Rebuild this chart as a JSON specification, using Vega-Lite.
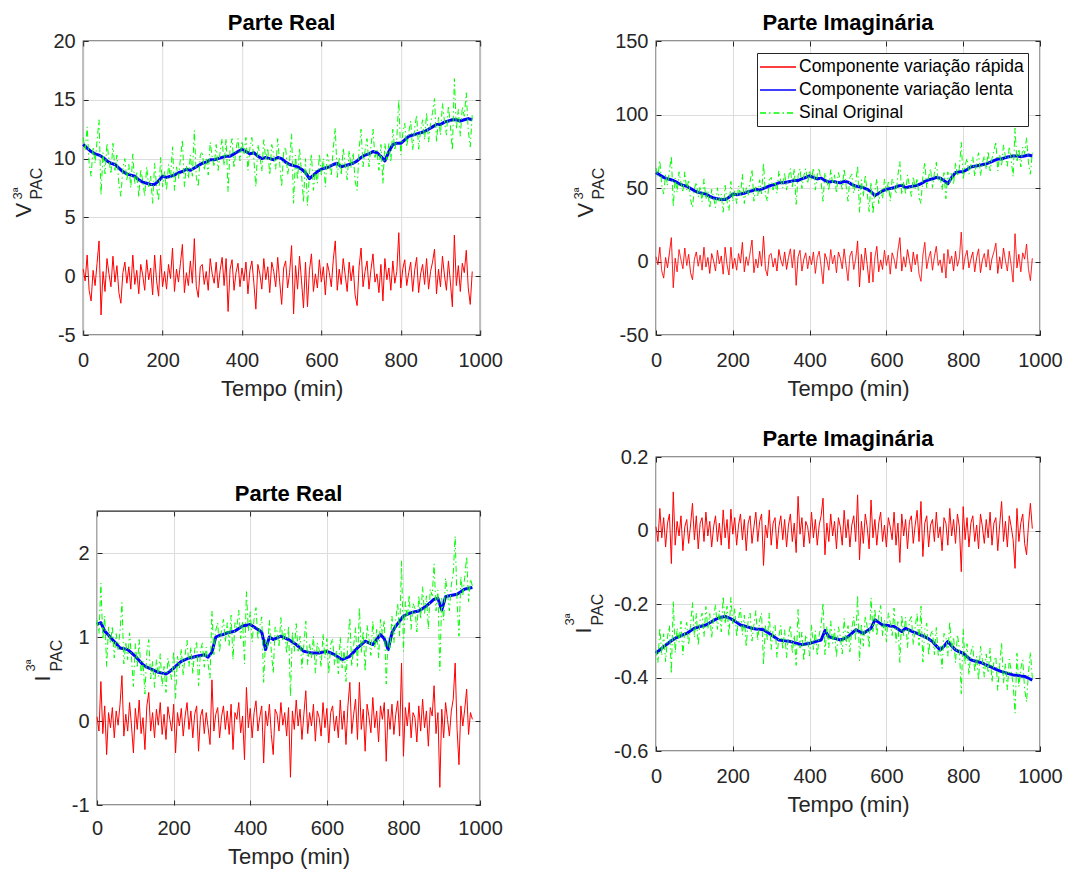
{
"$schema":"https://vega.github.io/schema/vega-lite/v6.json",
"padding":{"left":10,"top":11,"right":5,"bottom":3},
"config":{
 "font":"Liberation Sans",
 "view":{"stroke":"#262626","strokeWidth":1.3},
 "axis":{"labelFont":"Liberation Sans","labelFontSize":20,"labelColor":"#262626","titleFont":"Liberation Sans","titleColor":"#262626","titleFontWeight":"normal","gridColor":"#dcdcdc","gridOpacity":1,"tickColor":"#262626","tickSize":-5,"tickWidth":1,"domain":false,"labelPadding":13,"labelFlush":false},
 "title":{"font":"Liberation Sans","fontSize":22,"fontWeight":"bold","color":"#000000","baseline":"alphabetic","offset":-4,"frame":"group","anchor":"middle"},
 "line":{"strokeJoin":"round"}
},
"datasets":{
"f":[
{"t":0,"a":0.6,"b":11.8,"c":3.2,"d":63.7,"e":0.05,"f":1.2,"g":0.01,"h":-0.324},
{"t":5,"a":-0.4,"b":10.7,"c":-2.2,"d":57.8,"e":-0.12,"f":1.04,"g":-0.03,"h":-0.36},
{"t":10,"a":1.8,"b":12.7,"c":9.7,"d":68.6,"e":0.47,"f":1.64,"g":0.06,"h":-0.265},
{"t":15,"a":-1.2,"b":9.6,"c":-6.5,"d":51.8,"e":-0.15,"f":0.97,"g":-0.02,"h":-0.34},
{"t":20,"a":-2.1,"b":8.5,"c":-11.3,"d":45.9,"e":0.18,"f":1.25,"g":0.035,"h":-0.281},
{"t":25,"a":0.5,"b":11.0,"c":2.7,"d":59.4,"e":-0.4,"f":0.65,"g":-0.045,"h":-0.357},
{"t":30,"a":-0.8,"b":9.6,"c":-4.3,"d":51.8,"e":0.1,"f":1.12,"g":0.02,"h":-0.288},
{"t":35,"a":1.1,"b":11.5,"c":5.9,"d":62.1,"e":-0.08,"f":0.92,"g":0.045,"h":-0.259},
{"t":40,"a":3.0,"b":13.3,"c":16.2,"d":71.8,"e":0.16,"f":1.13,"g":-0.09,"h":-0.39},
{"t":45,"a":-3.3,"b":6.9,"c":-17.8,"d":37.3,"e":-0.2,"f":0.75,"g":0.105,"h":-0.192},
{"t":50,"a":0.4,"b":10.5,"c":2.2,"d":56.7,"e":0.12,"f":1.04,"g":-0.04,"h":-0.333},
{"t":55,"a":-1.3,"b":8.7,"c":-7.0,"d":47.0,"e":-0.05,"f":0.85,"g":0.025,"h":-0.266},
{"t":60,"a":1.5,"b":11.3,"c":8.1,"d":61.0,"e":0.2,"f":1.07,"g":-0.015,"h":-0.304},
{"t":65,"a":0.2,"b":9.9,"c":1.1,"d":53.5,"e":0.54,"f":1.41,"g":0.04,"h":-0.247},
{"t":70,"a":-0.9,"b":8.7,"c":-4.9,"d":47.0,"e":-0.18,"f":0.68,"g":-0.055,"h":-0.339},
{"t":75,"a":1.7,"b":11.3,"c":9.2,"d":61.0,"e":0.08,"f":0.94,"g":0.01,"h":-0.272},
{"t":80,"a":-0.5,"b":9.0,"c":-2.7,"d":48.6,"e":-0.12,"f":0.73,"g":0.03,"h":-0.25},
{"t":85,"a":0.9,"b":10.3,"c":4.9,"d":55.6,"e":0.22,"f":1.05,"g":-0.035,"h":-0.312},
{"t":90,"a":-1.4,"b":7.8,"c":-7.6,"d":42.1,"e":-0.06,"f":0.75,"g":0.015,"h":-0.258},
{"t":95,"a":-2.3,"b":6.8,"c":-12.4,"d":36.7,"e":-0.38,"f":0.41,"g":0.074,"h":-0.196},
{"t":100,"a":0.3,"b":9.2,"c":1.6,"d":49.7,"e":0.15,"f":0.92,"g":-0.025,"h":-0.291},
{"t":105,"a":1.2,"b":10.0,"c":6.5,"d":54.0,"e":-0.1,"f":0.65,"g":0.04,"h":-0.225},
{"t":110,"a":-0.6,"b":8.1,"c":-3.2,"d":43.7,"e":0.25,"f":0.97,"g":-0.05,"h":-0.313},
{"t":115,"a":0.8,"b":9.5,"c":4.3,"d":51.3,"e":-0.15,"f":0.55,"g":0.02,"h":-0.242},
{"t":120,"a":-1.1,"b":7.5,"c":-5.9,"d":40.5,"e":0.04,"f":0.71,"g":0.035,"h":-0.225},
{"t":125,"a":1.8,"b":10.4,"c":9.7,"d":56.2,"e":-0.34,"f":0.32,"g":-0.03,"h":-0.289},
{"t":130,"a":-0.7,"b":7.8,"c":-3.8,"d":42.1,"e":0.18,"f":0.82,"g":0.05,"h":-0.207},
{"t":135,"a":0.5,"b":8.9,"c":2.7,"d":48.1,"e":0.34,"f":0.97,"g":-0.015,"h":-0.269},
{"t":140,"a":-1.5,"b":6.7,"c":-8.1,"d":36.2,"e":-0.12,"f":0.5,"g":0.025,"h":-0.226},
{"t":145,"a":1.0,"b":9.1,"c":5.4,"d":49.1,"e":0.1,"f":0.71,"g":-0.045,"h":-0.293},
{"t":150,"a":0.1,"b":8.1,"c":0.5,"d":43.7,"e":-0.2,"f":0.4,"g":0.01,"h":-0.235},
{"t":155,"a":-1.2,"b":6.8,"c":-6.5,"d":36.7,"e":0.14,"f":0.73,"g":0.04,"h":-0.202},
{"t":160,"a":1.4,"b":9.3,"c":7.6,"d":50.2,"e":-0.05,"f":0.53,"g":-0.03,"h":-0.269},
{"t":165,"a":-0.3,"b":7.6,"c":-1.6,"d":41.0,"e":0.22,"f":0.8,"g":0.02,"h":-0.218},
{"t":170,"a":0.7,"b":8.5,"c":3.8,"d":45.9,"e":-0.16,"f":0.41,"g":-0.04,"h":-0.276},
{"t":175,"a":-1.6,"b":6.2,"c":-8.6,"d":33.5,"e":0.08,"f":0.65,"g":0.056,"h":-0.179},
{"t":180,"a":1.8,"b":9.6,"c":9.7,"d":51.8,"e":-0.22,"f":0.34,"g":-0.02,"h":-0.254},
{"t":185,"a":-0.4,"b":7.6,"c":-2.2,"d":41.0,"e":0.17,"f":0.75,"g":0.03,"h":-0.206},
{"t":190,"a":-1.7,"b":6.4,"c":-9.2,"d":34.6,"e":0.02,"f":0.61,"g":-0.05,"h":-0.288},
{"t":195,"a":1.8,"b":10.1,"c":9.7,"d":54.5,"e":-0.12,"f":0.49,"g":0.058,"h":-0.182},
{"t":200,"a":-0.9,"b":7.6,"c":-4.9,"d":41.0,"e":0.2,"f":0.83,"g":-0.01,"h":-0.253},
{"t":205,"a":0.4,"b":8.9,"c":2.2,"d":48.1,"e":-0.38,"f":0.27,"g":0.035,"h":-0.212},
{"t":210,"a":-1.1,"b":7.3,"c":-5.9,"d":39.4,"e":0.1,"f":0.77,"g":-0.04,"h":-0.29},
{"t":215,"a":1.0,"b":9.5,"c":5.4,"d":51.3,"e":-0.06,"f":0.63,"g":0.015,"h":-0.239},
{"t":220,"a":-0.2,"b":8.3,"c":-1.1,"d":44.8,"e":0.15,"f":0.86,"g":0.045,"h":-0.212},
{"t":225,"a":2.4,"b":11.0,"c":13.0,"d":59.4,"e":-0.18,"f":0.54,"g":-0.025,"h":-0.284},
{"t":230,"a":-1.3,"b":7.3,"c":-7.0,"d":39.4,"e":0.06,"f":0.79,"g":0.03,"h":-0.23},
{"t":235,"a":0.6,"b":9.3,"c":3.2,"d":50.2,"e":0.22,"f":0.96,"g":-0.055,"h":-0.317},
{"t":240,"a":-0.5,"b":8.3,"c":-2.7,"d":44.8,"e":-0.1,"f":0.65,"g":0.02,"h":-0.243},
{"t":245,"a":1.1,"b":10.0,"c":5.9,"d":54.0,"e":0.12,"f":0.88,"g":0.04,"h":-0.225},
{"t":250,"a":2.7,"b":11.6,"c":14.6,"d":62.6,"e":-0.2,"f":0.56,"g":-0.035,"h":-0.301},
{"t":255,"a":-1.4,"b":7.6,"c":-7.6,"d":41.0,"e":0.08,"f":0.85,"g":0.01,"h":-0.257},
{"t":260,"a":0.3,"b":9.4,"c":1.6,"d":50.8,"e":0.18,"f":0.95,"g":0.05,"h":-0.218},
{"t":265,"a":-0.8,"b":8.3,"c":-4.3,"d":44.8,"e":-0.36,"f":0.42,"g":-0.03,"h":-0.299},
{"t":270,"a":1.3,"b":10.3,"c":7.0,"d":55.6,"e":0.05,"f":0.83,"g":0.025,"h":-0.244},
{"t":275,"a":-0.6,"b":8.5,"c":-3.2,"d":45.9,"e":0.14,"f":0.93,"g":0.045,"h":-0.225},
{"t":280,"a":3.2,"b":12.4,"c":17.3,"d":67.0,"e":-0.15,"f":0.64,"g":-0.095,"h":-0.365},
{"t":285,"a":-0.9,"b":8.4,"c":-4.9,"d":45.4,"e":0.1,"f":0.88,"g":0.015,"h":-0.259},
{"t":290,"a":-1.8,"b":7.6,"c":-9.7,"d":41.0,"e":-0.08,"f":0.68,"g":-0.02,"h":-0.297},
{"t":295,"a":0.8,"b":10.3,"c":4.3,"d":55.6,"e":-0.28,"f":0.51,"g":0.056,"h":-0.225},
{"t":300,"a":1.0,"b":10.6,"c":5.4,"d":57.2,"e":0.49,"f":1.31,"g":-0.04,"h":-0.324},
{"t":305,"a":-0.7,"b":9.0,"c":-3.8,"d":48.6,"e":-0.12,"f":0.79,"g":0.02,"h":-0.268},
{"t":310,"a":0.4,"b":10.1,"c":2.2,"d":54.5,"e":0.08,"f":1.08,"g":0.035,"h":-0.256},
{"t":315,"a":-1.2,"b":8.6,"c":-6.5,"d":46.4,"e":0.16,"f":1.17,"g":-0.05,"h":-0.345},
{"t":320,"a":1.5,"b":11.4,"c":8.1,"d":61.6,"e":-0.2,"f":0.82,"g":0.01,"h":-0.288},
{"t":325,"a":0.2,"b":10.1,"c":1.1,"d":54.5,"e":0.05,"f":1.08,"g":0.04,"h":-0.259},
{"t":330,"a":-0.6,"b":9.3,"c":-3.2,"d":50.2,"e":0.18,"f":1.21,"g":-0.025,"h":-0.324},
{"t":335,"a":1.2,"b":11.2,"c":6.5,"d":60.5,"e":-0.1,"f":0.94,"g":0.03,"h":-0.27},
{"t":340,"a":-1.0,"b":9.0,"c":-5.4,"d":48.6,"e":0.12,"f":1.17,"g":-0.045,"h":-0.346},
{"t":345,"a":0.5,"b":10.6,"c":2.7,"d":57.2,"e":-0.16,"f":0.9,"g":0.015,"h":-0.287},
{"t":350,"a":1.6,"b":11.7,"c":8.6,"d":63.2,"e":0.2,"f":1.26,"g":0.045,"h":-0.257},
{"t":355,"a":-0.8,"b":9.4,"c":-4.3,"d":50.8,"e":-0.34,"f":0.73,"g":-0.03,"h":-0.334},
{"t":360,"a":1.5,"b":11.7,"c":8.1,"d":63.2,"e":0.1,"f":1.17,"g":0.02,"h":-0.285},
{"t":365,"a":-3.0,"b":7.2,"c":-16.2,"d":38.9,"e":0.02,"f":1.11,"g":-0.06,"h":-0.367},
{"t":370,"a":0.6,"b":10.8,"c":3.2,"d":58.3,"e":0.22,"f":1.32,"g":0.093,"h":-0.215},
{"t":375,"a":1.4,"b":11.7,"c":7.6,"d":63.2,"e":-0.14,"f":0.98,"g":-0.01,"h":-0.32},
{"t":380,"a":-1.2,"b":9.2,"c":-6.5,"d":49.7,"e":0.06,"f":1.19,"g":0.035,"h":-0.276},
{"t":385,"a":0.3,"b":10.8,"c":1.6,"d":58.3,"e":-0.46,"f":0.68,"g":-0.045,"h":-0.355},
{"t":390,"a":1.1,"b":11.7,"c":5.9,"d":63.2,"e":0.4,"f":1.54,"g":0.025,"h":-0.284},
{"t":395,"a":-0.9,"b":9.8,"c":-4.9,"d":52.9,"e":-0.08,"f":1.07,"g":0.01,"h":-0.298},
{"t":400,"a":0.7,"b":11.5,"c":3.8,"d":62.1,"e":0.15,"f":1.3,"g":-0.035,"h":-0.342},
{"t":405,"a":-0.4,"b":10.3,"c":-2.2,"d":55.6,"e":-0.2,"f":0.94,"g":0.05,"h":-0.256},
{"t":410,"a":1.2,"b":11.8,"c":6.5,"d":63.7,"e":0.1,"f":1.22,"g":-0.02,"h":-0.324},
{"t":415,"a":-1.5,"b":9.0,"c":-8.1,"d":48.6,"e":0.24,"f":1.35,"g":0.03,"h":-0.273},
{"t":420,"a":0.5,"b":10.9,"c":2.7,"d":58.9,"e":-0.12,"f":0.97,"g":-0.04,"h":-0.341},
{"t":425,"a":1.3,"b":11.8,"c":7.0,"d":63.7,"e":0.05,"f":1.13,"g":0.015,"h":-0.285},
{"t":430,"a":-0.6,"b":9.9,"c":-3.2,"d":53.5,"e":0.18,"f":1.24,"g":0.04,"h":-0.258},
{"t":435,"a":-2.8,"b":7.6,"c":-15.1,"d":41.0,"e":-0.5,"f":0.46,"g":0.088,"h":-0.197},
{"t":440,"a":1.0,"b":11.2,"c":5.4,"d":60.5,"e":0.12,"f":0.97,"g":-0.066,"h":-0.338},
{"t":445,"a":0.2,"b":10.3,"c":1.1,"d":55.6,"e":-0.06,"f":0.87,"g":0.02,"h":-0.261},
{"t":450,"a":-1.1,"b":8.9,"c":-5.9,"d":48.1,"e":0.2,"f":1.2,"g":-0.03,"h":-0.319},
{"t":455,"a":1.5,"b":11.6,"c":8.1,"d":62.6,"e":-0.16,"f":0.83,"g":0.045,"h":-0.246},
{"t":460,"a":-0.3,"b":9.8,"c":-1.6,"d":52.9,"e":-0.4,"f":0.57,"g":-0.015,"h":-0.307},
{"t":465,"a":0.8,"b":10.9,"c":4.3,"d":58.9,"e":0.14,"f":1.12,"g":0.025,"h":-0.269},
{"t":470,"a":-1.4,"b":8.6,"c":-7.6,"d":46.4,"e":0.08,"f":1.07,"g":-0.05,"h":-0.345},
{"t":475,"a":1.2,"b":11.2,"c":6.5,"d":60.5,"e":-0.12,"f":0.88,"g":0.035,"h":-0.262},
{"t":480,"a":0.4,"b":10.3,"c":2.2,"d":55.6,"e":0.22,"f":1.23,"g":0.01,"h":-0.288},
{"t":485,"a":-0.9,"b":9.1,"c":-4.9,"d":49.1,"e":-0.05,"f":0.95,"g":-0.04,"h":-0.336},
{"t":490,"a":1.6,"b":11.7,"c":8.6,"d":63.2,"e":0.1,"f":1.09,"g":0.055,"h":-0.239},
{"t":495,"a":-0.5,"b":9.6,"c":-2.7,"d":51.8,"e":-0.18,"f":0.8,"g":-0.02,"h":-0.312},
{"t":500,"a":-2.4,"b":7.6,"c":-13.0,"d":41.0,"e":0.16,"f":1.13,"g":0.03,"h":-0.259},
{"t":505,"a":0.7,"b":10.6,"c":3.8,"d":57.2,"e":-0.67,"f":0.29,"g":-0.045,"h":-0.33},
{"t":510,"a":1.3,"b":11.0,"c":7.0,"d":59.4,"e":0.12,"f":1.06,"g":0.015,"h":-0.265},
{"t":515,"a":-1.0,"b":8.6,"c":-5.4,"d":46.4,"e":-0.1,"f":0.83,"g":0.04,"h":-0.235},
{"t":520,"a":0.3,"b":9.8,"c":1.6,"d":52.9,"e":0.25,"f":1.16,"g":-0.03,"h":-0.3},
{"t":525,"a":2.6,"b":12.1,"c":14.0,"d":65.3,"e":-0.06,"f":0.83,"g":0.097,"h":-0.176},
{"t":530,"a":-3.2,"b":6.2,"c":-17.3,"d":33.5,"e":0.14,"f":1.01,"g":-0.08,"h":-0.355},
{"t":535,"a":0.9,"b":10.3,"c":4.9,"d":55.6,"e":-0.22,"f":0.63,"g":0.025,"h":-0.253},
{"t":540,"a":-1.1,"b":8.2,"c":-5.9,"d":44.3,"e":0.08,"f":0.91,"g":-0.035,"h":-0.315},
{"t":545,"a":1.7,"b":10.9,"c":9.2,"d":58.9,"e":0.36,"f":1.19,"g":0.045,"h":-0.232},
{"t":550,"a":-0.4,"b":8.7,"c":-2.2,"d":47.0,"e":-0.15,"f":0.67,"g":0.01,"h":-0.263},
{"t":555,"a":-2.7,"b":6.3,"c":-14.6,"d":34.0,"e":0.1,"f":0.92,"g":-0.05,"h":-0.32},
{"t":560,"a":1.2,"b":10.0,"c":6.5,"d":54.0,"e":-0.06,"f":0.75,"g":0.083,"h":-0.183},
{"t":565,"a":-2.6,"b":6.0,"c":-14.0,"d":32.4,"e":0.2,"f":1.01,"g":-0.02,"h":-0.275},
{"t":570,"a":0.5,"b":8.8,"c":2.7,"d":47.5,"e":-0.24,"f":0.57,"g":0.03,"h":-0.213},
{"t":575,"a":1.9,"b":10.4,"c":10.3,"d":56.2,"e":0.12,"f":0.93,"g":-0.04,"h":-0.287},
{"t":580,"a":-1.3,"b":7.3,"c":-7.0,"d":39.4,"e":0.04,"f":0.85,"g":0.02,"h":-0.23},
{"t":585,"a":0.2,"b":9.0,"c":1.1,"d":48.6,"e":-0.18,"f":0.64,"g":0.05,"h":-0.204},
{"t":590,"a":-1.0,"b":7.9,"c":-5.4,"d":42.7,"e":0.22,"f":1.04,"g":-0.03,"h":-0.287},
{"t":595,"a":1.4,"b":10.4,"c":7.6,"d":56.2,"e":-0.08,"f":0.75,"g":0.015,"h":-0.243},
{"t":600,"a":-0.5,"b":8.6,"c":-2.7,"d":46.4,"e":0.15,"f":0.98,"g":-0.045,"h":-0.303},
{"t":605,"a":0.8,"b":10.0,"c":4.3,"d":54.0,"e":-0.26,"f":0.56,"g":0.035,"h":-0.224},
{"t":610,"a":-1.6,"b":7.6,"c":-8.6,"d":41.0,"e":0.1,"f":0.91,"g":0.01,"h":-0.25},
{"t":615,"a":1.1,"b":10.4,"c":5.9,"d":56.2,"e":0.18,"f":0.98,"g":-0.025,"h":-0.286},
{"t":620,"a":0.3,"b":9.6,"c":1.6,"d":51.8,"e":-0.12,"f":0.67,"g":0.05,"h":-0.211},
{"t":625,"a":-0.9,"b":8.5,"c":-4.9,"d":45.9,"e":0.06,"f":0.84,"g":-0.04,"h":-0.305},
{"t":630,"a":1.4,"b":10.9,"c":7.6,"d":58.9,"e":-0.2,"f":0.56,"g":0.02,"h":-0.248},
{"t":635,"a":3.0,"b":12.6,"c":16.2,"d":68.0,"e":0.25,"f":1.0,"g":-0.087,"h":-0.359},
{"t":640,"a":-1.2,"b":8.4,"c":-6.5,"d":45.4,"e":-0.1,"f":0.63,"g":0.045,"h":-0.23},
{"t":645,"a":0.6,"b":10.1,"c":3.2,"d":54.5,"e":0.12,"f":0.86,"g":-0.015,"h":-0.286},
{"t":650,"a":-0.7,"b":8.6,"c":-3.8,"d":46.4,"e":-0.28,"f":0.47,"g":0.03,"h":-0.236},
{"t":655,"a":1.5,"b":10.9,"c":8.1,"d":58.9,"e":0.18,"f":0.94,"g":-0.05,"h":-0.319},
{"t":660,"a":0.1,"b":9.5,"c":0.5,"d":51.3,"e":0.46,"f":1.23,"g":0.025,"h":-0.246},
{"t":665,"a":-1.3,"b":8.2,"c":-7.0,"d":44.3,"e":-0.15,"f":0.65,"g":0.04,"h":-0.234},
{"t":670,"a":1.2,"b":10.7,"c":6.5,"d":57.8,"e":0.08,"f":0.9,"g":-0.035,"h":-0.311},
{"t":675,"a":-0.4,"b":9.2,"c":-2.2,"d":49.7,"e":0.26,"f":1.11,"g":0.015,"h":-0.263},
{"t":680,"a":0.9,"b":10.5,"c":4.9,"d":56.7,"e":-0.22,"f":0.65,"g":0.055,"h":-0.225},
{"t":685,"a":-1.6,"b":8.1,"c":-8.6,"d":43.7,"e":0.46,"f":1.35,"g":-0.03,"h":-0.313},
{"t":690,"a":-2.5,"b":7.3,"c":-13.5,"d":39.4,"e":-0.1,"f":0.81,"g":0.079,"h":-0.206},
{"t":695,"a":0.8,"b":10.8,"c":4.3,"d":58.3,"e":0.14,"f":1.07,"g":-0.071,"h":-0.358},
{"t":700,"a":2.4,"b":12.5,"c":13.0,"d":67.5,"e":-0.36,"f":0.59,"g":0.02,"h":-0.269},
{"t":705,"a":-0.9,"b":9.3,"c":-4.9,"d":50.2,"e":0.2,"f":1.14,"g":0.04,"h":-0.252},
{"t":710,"a":0.4,"b":10.7,"c":2.2,"d":57.8,"e":0.05,"f":0.98,"g":-0.045,"h":-0.34},
{"t":715,"a":1.3,"b":11.7,"c":7.0,"d":63.2,"e":-0.14,"f":0.78,"g":0.015,"h":-0.284},
{"t":720,"a":-1.1,"b":9.3,"c":-5.9,"d":50.2,"e":0.28,"f":1.19,"g":0.03,"h":-0.272},
{"t":725,"a":0.6,"b":11.1,"c":3.2,"d":59.9,"e":-0.08,"f":0.86,"g":-0.03,"h":-0.338},
{"t":730,"a":1.9,"b":12.5,"c":10.3,"d":67.5,"e":0.12,"f":1.09,"g":0.05,"h":-0.264},
{"t":735,"a":-0.5,"b":10.1,"c":-2.7,"d":54.5,"e":-0.25,"f":0.75,"g":-0.02,"h":-0.34},
{"t":740,"a":0.2,"b":10.7,"c":1.1,"d":57.8,"e":0.18,"f":1.21,"g":0.01,"h":-0.315},
{"t":745,"a":-1.4,"b":9.0,"c":-7.6,"d":48.6,"e":0.02,"f":1.03,"g":-0.055,"h":-0.375},
{"t":750,"a":1.0,"b":11.2,"c":5.4,"d":60.5,"e":0.22,"f":1.2,"g":0.035,"h":-0.28},
{"t":755,"a":-2.1,"b":7.9,"c":-11.3,"d":42.7,"e":-0.48,"f":0.44,"g":0.02,"h":-0.289},
{"t":760,"a":1.5,"b":11.3,"c":8.1,"d":61.0,"e":0.14,"f":0.99,"g":-0.04,"h":-0.342},
{"t":765,"a":-0.3,"b":9.9,"c":-1.6,"d":53.5,"e":-0.1,"f":0.85,"g":0.06,"h":-0.248},
{"t":770,"a":0.7,"b":11.3,"c":3.8,"d":61.0,"e":0.2,"f":1.25,"g":-0.015,"h":-0.329},
{"t":775,"a":-1.2,"b":9.7,"c":-6.5,"d":52.4,"e":-0.16,"f":0.93,"g":0.03,"h":-0.29},
{"t":780,"a":1.3,"b":12.5,"c":7.0,"d":67.5,"e":0.08,"f":1.21,"g":-0.035,"h":-0.36},
{"t":785,"a":-0.6,"b":10.7,"c":-3.2,"d":57.8,"e":0.24,"f":1.4,"g":0.045,"h":-0.283},
{"t":790,"a":0.4,"b":11.7,"c":2.2,"d":63.2,"e":-0.18,"f":1.01,"g":0.01,"h":-0.32},
{"t":795,"a":3.7,"b":15.0,"c":20.0,"d":81.0,"e":0.69,"f":1.91,"g":-0.112,"h":-0.444},
{"t":800,"a":-1.0,"b":10.3,"c":-5.4,"d":55.6,"e":-0.42,"f":0.83,"g":0.065,"h":-0.269},
{"t":805,"a":0.6,"b":12.1,"c":3.2,"d":65.3,"e":0.16,"f":1.42,"g":-0.025,"h":-0.364},
{"t":810,"a":1.4,"b":13.0,"c":7.6,"d":70.2,"e":-0.06,"f":1.21,"g":0.035,"h":-0.308},
{"t":815,"a":-0.8,"b":11.0,"c":-4.3,"d":59.4,"e":0.22,"f":1.5,"g":-0.045,"h":-0.393},
{"t":820,"a":0.3,"b":12.2,"c":1.6,"d":65.9,"e":-0.2,"f":1.09,"g":0.02,"h":-0.332},
{"t":825,"a":1.2,"b":13.2,"c":6.5,"d":71.3,"e":0.1,"f":1.4,"g":0.04,"h":-0.314},
{"t":830,"a":-1.3,"b":10.7,"c":-7.0,"d":57.8,"e":0.04,"f":1.34,"g":-0.03,"h":-0.385},
{"t":835,"a":0.5,"b":12.6,"c":2.7,"d":68.0,"e":-0.25,"f":1.06,"g":0.015,"h":-0.342},
{"t":840,"a":1.6,"b":13.7,"c":8.6,"d":74.0,"e":0.18,"f":1.49,"g":-0.05,"h":-0.408},
{"t":845,"a":-1.4,"b":10.8,"c":-7.6,"d":58.3,"e":-0.12,"f":1.21,"g":0.045,"h":-0.315},
{"t":850,"a":0.2,"b":12.4,"c":1.1,"d":67.0,"e":0.26,"f":1.6,"g":0.01,"h":-0.351},
{"t":855,"a":1.0,"b":13.3,"c":5.4,"d":71.8,"e":-0.08,"f":1.28,"g":-0.035,"h":-0.399},
{"t":860,"a":-0.7,"b":11.6,"c":-3.8,"d":62.6,"e":0.12,"f":1.49,"g":0.03,"h":-0.336},
{"t":865,"a":1.5,"b":13.9,"c":8.1,"d":75.1,"e":-0.3,"f":1.09,"g":-0.02,"h":-0.388},
{"t":870,"a":-1.1,"b":11.4,"c":-5.9,"d":61.6,"e":0.16,"f":1.57,"g":0.05,"h":-0.32},
{"t":875,"a":0.4,"b":13.0,"c":2.2,"d":70.2,"e":0.06,"f":1.49,"g":-0.04,"h":-0.413},
{"t":880,"a":1.2,"b":13.9,"c":6.5,"d":75.1,"e":0.42,"f":1.87,"g":0.02,"h":-0.355},
{"t":885,"a":2.3,"b":15.1,"c":12.4,"d":81.5,"e":-0.15,"f":1.31,"g":0.035,"h":-0.343},
{"t":890,"a":-1.5,"b":11.4,"c":-8.1,"d":61.6,"e":0.1,"f":1.56,"g":-0.055,"h":-0.435},
{"t":895,"a":0.6,"b":13.5,"c":3.2,"d":72.9,"e":-0.79,"f":0.6,"g":0.015,"h":-0.367},
{"t":900,"a":-0.9,"b":12.0,"c":-4.9,"d":64.8,"e":0.14,"f":1.46,"g":0.079,"h":-0.305},
{"t":905,"a":1.7,"b":14.7,"c":9.2,"d":79.4,"e":-0.2,"f":1.2,"g":-0.03,"h":-0.416},
{"t":910,"a":0.1,"b":13.2,"c":0.5,"d":71.3,"e":0.22,"f":1.7,"g":0.025,"h":-0.362},
{"t":915,"a":-1.2,"b":12.0,"c":-6.5,"d":64.8,"e":0.02,"f":1.51,"g":-0.045,"h":-0.434},
{"t":920,"a":1.3,"b":14.5,"c":7.0,"d":78.3,"e":-0.18,"f":1.31,"g":0.04,"h":-0.35},
{"t":925,"a":-0.5,"b":12.8,"c":-2.7,"d":69.1,"e":0.12,"f":1.62,"g":0.01,"h":-0.382},
{"t":930,"a":-2.6,"b":10.7,"c":-14.0,"d":57.8,"e":0.26,"f":1.76,"g":-0.025,"h":-0.418},
{"t":935,"a":3.5,"b":16.8,"c":18.9,"d":90.7,"e":0.69,"f":2.2,"g":-0.103,"h":-0.497},
{"t":940,"a":-0.8,"b":12.5,"c":-4.3,"d":67.5,"e":-0.1,"f":1.41,"g":0.06,"h":-0.334},
{"t":945,"a":0.9,"b":14.2,"c":4.9,"d":76.7,"e":-0.52,"f":1.01,"g":-0.03,"h":-0.425},
{"t":950,"a":-1.3,"b":11.9,"c":-7.0,"d":64.3,"e":0.18,"f":1.72,"g":0.02,"h":-0.376},
{"t":955,"a":1.1,"b":14.4,"c":5.9,"d":77.8,"e":-0.06,"f":1.5,"g":0.045,"h":-0.352},
{"t":960,"a":0.3,"b":13.6,"c":1.6,"d":73.4,"e":0.14,"f":1.71,"g":-0.035,"h":-0.432},
{"t":965,"a":2.2,"b":15.6,"c":11.9,"d":84.2,"e":0.38,"f":1.96,"g":-0.066,"h":-0.466},
{"t":970,"a":-1.0,"b":12.4,"c":-5.4,"d":67.0,"e":-0.16,"f":1.42,"g":0.015,"h":-0.387},
{"t":975,"a":-2.4,"b":11.0,"c":-13.0,"d":59.4,"e":0.1,"f":1.69,"g":0.074,"h":-0.331},
{"t":980,"a":0.4,"b":13.7,"c":2.2,"d":74.0,"e":0.02,"f":1.61,"g":0.005,"h":-0.402}
],
"s":[
{"t":0,"a":11.2,"b":60.5,"c":1.15,"d":-0.334},
{"t":10,"a":10.9,"b":58.9,"c":1.17,"d":-0.325},
{"t":20,"a":10.6,"b":57.2,"c":1.07,"d":-0.316},
{"t":30,"a":10.4,"b":56.2,"c":1.02,"d":-0.308},
{"t":40,"a":10.3,"b":55.6,"c":0.97,"d":-0.3},
{"t":50,"a":10.1,"b":54.5,"c":0.92,"d":-0.293},
{"t":60,"a":9.8,"b":52.9,"c":0.87,"d":-0.289},
{"t":70,"a":9.6,"b":51.8,"c":0.86,"d":-0.284},
{"t":80,"a":9.5,"b":51.3,"c":0.85,"d":-0.28},
{"t":90,"a":9.2,"b":49.7,"c":0.81,"d":-0.273},
{"t":100,"a":8.9,"b":48.1,"c":0.77,"d":-0.266},
{"t":110,"a":8.7,"b":47.0,"c":0.72,"d":-0.263},
{"t":120,"a":8.6,"b":46.4,"c":0.67,"d":-0.26},
{"t":130,"a":8.5,"b":45.9,"c":0.64,"d":-0.257},
{"t":140,"a":8.2,"b":44.3,"c":0.62,"d":-0.251},
{"t":150,"a":8.0,"b":43.2,"c":0.6,"d":-0.245},
{"t":160,"a":7.9,"b":42.7,"c":0.58,"d":-0.239},
{"t":170,"a":7.8,"b":42.1,"c":0.57,"d":-0.236},
{"t":180,"a":7.8,"b":42.1,"c":0.56,"d":-0.234},
{"t":190,"a":8.1,"b":43.7,"c":0.59,"d":-0.238},
{"t":200,"a":8.5,"b":45.9,"c":0.63,"d":-0.243},
{"t":210,"a":8.4,"b":45.4,"c":0.67,"d":-0.25},
{"t":220,"a":8.5,"b":45.9,"c":0.71,"d":-0.257},
{"t":230,"a":8.6,"b":46.4,"c":0.73,"d":-0.26},
{"t":240,"a":8.8,"b":47.5,"c":0.75,"d":-0.263},
{"t":250,"a":8.9,"b":48.1,"c":0.76,"d":-0.266},
{"t":260,"a":9.1,"b":49.1,"c":0.77,"d":-0.268},
{"t":270,"a":9.0,"b":48.6,"c":0.78,"d":-0.269},
{"t":280,"a":9.2,"b":49.7,"c":0.79,"d":-0.27},
{"t":290,"a":9.4,"b":50.8,"c":0.76,"d":-0.277},
{"t":300,"a":9.6,"b":51.8,"c":0.82,"d":-0.284},
{"t":310,"a":9.7,"b":52.4,"c":1.0,"d":-0.291},
{"t":320,"a":9.9,"b":53.5,"c":1.02,"d":-0.298},
{"t":330,"a":9.9,"b":53.5,"c":1.03,"d":-0.299},
{"t":340,"a":10.0,"b":54.0,"c":1.05,"d":-0.301},
{"t":350,"a":10.1,"b":54.5,"c":1.06,"d":-0.302},
{"t":360,"a":10.2,"b":55.1,"c":1.07,"d":-0.305},
{"t":370,"a":10.2,"b":55.1,"c":1.1,"d":-0.308},
{"t":380,"a":10.4,"b":56.2,"c":1.13,"d":-0.311},
{"t":390,"a":10.6,"b":57.2,"c":1.14,"d":-0.309},
{"t":400,"a":10.8,"b":58.3,"c":1.15,"d":-0.307},
{"t":410,"a":10.6,"b":57.2,"c":1.12,"d":-0.304},
{"t":420,"a":10.4,"b":56.2,"c":1.09,"d":-0.301},
{"t":430,"a":10.5,"b":56.7,"c":1.06,"d":-0.298},
{"t":440,"a":10.2,"b":55.1,"c":0.85,"d":-0.272},
{"t":450,"a":10.0,"b":54.0,"c":1.0,"d":-0.289},
{"t":460,"a":10.1,"b":54.5,"c":0.97,"d":-0.292},
{"t":470,"a":10.0,"b":54.0,"c":0.99,"d":-0.295},
{"t":480,"a":9.9,"b":53.5,"c":1.01,"d":-0.298},
{"t":490,"a":10.1,"b":54.5,"c":0.99,"d":-0.294},
{"t":500,"a":10.0,"b":54.0,"c":0.97,"d":-0.289},
{"t":510,"a":9.7,"b":52.4,"c":0.94,"d":-0.28},
{"t":520,"a":9.5,"b":51.3,"c":0.91,"d":-0.27},
{"t":530,"a":9.4,"b":50.8,"c":0.87,"d":-0.275},
{"t":540,"a":9.3,"b":50.2,"c":0.83,"d":-0.28},
{"t":550,"a":9.1,"b":49.1,"c":0.82,"d":-0.273},
{"t":560,"a":8.8,"b":47.5,"c":0.81,"d":-0.266},
{"t":570,"a":8.3,"b":44.8,"c":0.81,"d":-0.243},
{"t":580,"a":8.6,"b":46.4,"c":0.81,"d":-0.25},
{"t":590,"a":8.9,"b":48.1,"c":0.82,"d":-0.257},
{"t":600,"a":9.1,"b":49.1,"c":0.83,"d":-0.258},
{"t":610,"a":9.2,"b":49.7,"c":0.81,"d":-0.26},
{"t":620,"a":9.3,"b":50.2,"c":0.79,"d":-0.261},
{"t":630,"a":9.5,"b":51.3,"c":0.76,"d":-0.268},
{"t":640,"a":9.6,"b":51.8,"c":0.73,"d":-0.275},
{"t":650,"a":9.3,"b":50.2,"c":0.75,"d":-0.266},
{"t":660,"a":9.4,"b":50.8,"c":0.77,"d":-0.271},
{"t":670,"a":9.5,"b":51.3,"c":0.82,"d":-0.276},
{"t":680,"a":9.6,"b":51.8,"c":0.87,"d":-0.28},
{"t":690,"a":9.8,"b":52.9,"c":0.91,"d":-0.285},
{"t":700,"a":10.1,"b":54.5,"c":0.95,"d":-0.289},
{"t":710,"a":10.3,"b":55.6,"c":0.93,"d":-0.295},
{"t":720,"a":10.4,"b":56.2,"c":0.91,"d":-0.302},
{"t":730,"a":10.6,"b":57.2,"c":0.97,"d":-0.314},
{"t":740,"a":10.5,"b":56.7,"c":1.03,"d":-0.325},
{"t":750,"a":10.2,"b":55.1,"c":0.98,"d":-0.315},
{"t":760,"a":9.8,"b":52.9,"c":0.85,"d":-0.302},
{"t":770,"a":10.6,"b":57.2,"c":1.05,"d":-0.314},
{"t":780,"a":11.2,"b":60.5,"c":1.13,"d":-0.325},
{"t":790,"a":11.3,"b":61.0,"c":1.19,"d":-0.33},
{"t":800,"a":11.3,"b":61.0,"c":1.25,"d":-0.334},
{"t":810,"a":11.6,"b":62.6,"c":1.27,"d":-0.343},
{"t":820,"a":11.9,"b":64.3,"c":1.29,"d":-0.352},
{"t":830,"a":12.0,"b":64.8,"c":1.3,"d":-0.355},
{"t":840,"a":12.1,"b":65.3,"c":1.31,"d":-0.358},
{"t":850,"a":12.2,"b":65.9,"c":1.34,"d":-0.361},
{"t":860,"a":12.3,"b":66.4,"c":1.37,"d":-0.366},
{"t":870,"a":12.5,"b":67.5,"c":1.41,"d":-0.37},
{"t":880,"a":12.7,"b":68.6,"c":1.45,"d":-0.375},
{"t":890,"a":12.9,"b":69.7,"c":1.46,"d":-0.38},
{"t":900,"a":12.9,"b":69.7,"c":1.32,"d":-0.384},
{"t":910,"a":13.1,"b":70.7,"c":1.48,"d":-0.387},
{"t":920,"a":13.2,"b":71.3,"c":1.49,"d":-0.39},
{"t":930,"a":13.3,"b":71.8,"c":1.5,"d":-0.393},
{"t":940,"a":13.3,"b":71.8,"c":1.51,"d":-0.394},
{"t":950,"a":13.2,"b":71.3,"c":1.54,"d":-0.396},
{"t":960,"a":13.3,"b":71.8,"c":1.57,"d":-0.397},
{"t":970,"a":13.4,"b":72.4,"c":1.58,"d":-0.402},
{"t":980,"a":13.3,"b":71.8,"c":1.59,"d":-0.407}
]
},
"hconcat":[
{"vconcat":[
 {"width":397,"height":294,"title":{"text":"Parte Real"},
  "layer":[
   {"data":{"name":"f"},"mark":{"type":"line","color":"#ff0000","strokeWidth":1},
    "encoding":{
     "x":{"field":"t","type":"quantitative","scale":{"domain":[0,1000],"nice":false},"axis":{"orient":"bottom","values":[0,200,400,600,800,1000],"format":"d","grid":true,"labelBaseline":"alphabetic","labelPadding":36,"title":"Tempo (min)","titleFontSize":22,"titleX":198.5,"titleY":60,"titleAlign":"center","titleBaseline":"alphabetic"}},
     "y":{"field":"a","type":"quantitative","scale":{"domain":[-5,20],"nice":false,"zero":false},"axis":{"orient":"left","values":[-5,0,5,10,15,20],"grid":true,"labelExpr":"replace(format(datum.value,''),'\u2212','-')","title":"V","titleFontSize":22,"titleAngle":270,"titleAlign":"left","titleBaseline":"alphabetic","titleX":-53,"titleY":176}}}},
   {"data":{"name":"s"},"mark":{"type":"line","color":"#0000ff","strokeWidth":3},
    "encoding":{
     "x":{"field":"t","type":"quantitative","scale":{"domain":[0,1000],"nice":false},"axis":{"orient":"top","values":[0,200,400,600,800,1000],"labels":false,"grid":false,"title":".","titleOpacity":0,"titleFontSize":20,"titleX":433,"titleY":100,"titleAlign":"right","titleAngle":0}},
     "y":{"field":"a","type":"quantitative","scale":{"domain":[-5,20],"nice":false,"zero":false},"axis":{"orient":"left","labels":false,"ticks":false,"grid":false,"title":"PAC","titleFontSize":16,"titleAngle":270,"titleAlign":"left","titleBaseline":"alphabetic","titleX":-42,"titleY":158}}}},
   {"data":{"name":"f"},"mark":{"type":"line","color":"#00ff00","strokeWidth":1,"strokeDash":[6,3,1.5,3]},
    "encoding":{
     "x":{"field":"t","type":"quantitative","scale":{"domain":[0,1000],"nice":false},"axis":null},
     "y":{"field":"b","type":"quantitative","scale":{"domain":[-5,20],"nice":false,"zero":false},"axis":{"orient":"right","values":[-5,0,5,10,15,20],"labels":false,"grid":false,"title":"3ª","titleFontSize":13,"titleAngle":270,"titleAlign":"left","titleBaseline":"alphabetic","titleX":-459,"titleY":158}}}}
  ],
  "resolve":{"axis":{"x":"independent","y":"independent"}}
 },
 {"width":383,"height":294,"title":{"text":"Parte Real","offset":5},
  "layer":[
   {"data":{"name":"f"},"mark":{"type":"line","color":"#ff0000","strokeWidth":1},
    "encoding":{
     "x":{"field":"t","type":"quantitative","scale":{"domain":[0,1000],"nice":false},"axis":{"orient":"bottom","values":[0,200,400,600,800,1000],"format":"d","grid":true,"labelBaseline":"alphabetic","labelPadding":34,"title":"Tempo (min)","titleFontSize":22,"titleX":191.5,"titleY":58,"titleAlign":"center","titleBaseline":"alphabetic"}},
     "y":{"field":"e","type":"quantitative","scale":{"domain":[-1,2.5],"nice":false,"zero":false},"axis":{"orient":"left","values":[-1,0,1,2],"grid":true,"labelExpr":"replace(format(datum.value,''),'\u2212','-')","title":"I","titleFontSize":22,"titleAngle":270,"titleAlign":"left","titleBaseline":"alphabetic","titleX":-48,"titleY":170}}}},
   {"data":{"name":"s"},"mark":{"type":"line","color":"#0000ff","strokeWidth":3},
    "encoding":{
     "x":{"field":"t","type":"quantitative","scale":{"domain":[0,1000],"nice":false},"axis":{"orient":"top","values":[0,200,400,600,800,1000],"labels":false,"grid":false,"title":null}},
     "y":{"field":"c","type":"quantitative","scale":{"domain":[-1,2.5],"nice":false,"zero":false},"axis":{"orient":"left","labels":false,"ticks":false,"grid":false,"title":"PAC","titleFontSize":16,"titleAngle":270,"titleAlign":"left","titleBaseline":"alphabetic","titleX":-36,"titleY":160}}}},
   {"data":{"name":"f"},"mark":{"type":"line","color":"#00ff00","strokeWidth":1,"strokeDash":[6,3,1.5,3]},
    "encoding":{
     "x":{"field":"t","type":"quantitative","scale":{"domain":[0,1000],"nice":false},"axis":null},
     "y":{"field":"f","type":"quantitative","scale":{"domain":[-1,2.5],"nice":false,"zero":false},"axis":{"orient":"right","values":[-1,0,1,2],"labels":false,"grid":false,"title":"3ª","titleFontSize":13,"titleAngle":270,"titleAlign":"left","titleBaseline":"alphabetic","titleX":-446,"titleY":160}}}}
  ],
  "resolve":{"axis":{"x":"independent","y":"independent"}}
 }
],"spacing":81,"center":true},
{"vconcat":[
 {"width":384,"height":294,"title":{"text":"Parte Imaginária"},
  "layer":[
   {"data":{"name":"f"},"mark":{"type":"line","strokeWidth":1},
    "encoding":{
     "x":{"field":"t","type":"quantitative","scale":{"domain":[0,1000],"nice":false},"axis":{"orient":"bottom","values":[0,200,400,600,800,1000],"format":"d","grid":true,"labelBaseline":"alphabetic","labelPadding":36,"title":"Tempo (min)","titleFontSize":22,"titleX":192,"titleY":60,"titleAlign":"center","titleBaseline":"alphabetic"}},
     "y":{"field":"c","type":"quantitative","scale":{"domain":[-50,150],"nice":false,"zero":false},"axis":{"orient":"left","values":[-50,0,50,100,150],"grid":true,"labelExpr":"replace(format(datum.value,''),'\u2212','-')","title":"V","titleFontSize":22,"titleAngle":270,"titleAlign":"left","titleBaseline":"alphabetic","titleX":-64,"titleY":176}},
     "color":{"datum":"Componente variação rápida","type":"nominal","scale":{"domain":["Componente variação rápida","Componente variação lenta","Sinal Original"],"range":["#ff0000","#0000ff","#00ff00"]},
      "legend":{"title":null,"orient":"top-right","offset":12,"strokeColor":"#262626","fillColor":"#ffffff","padding":4,"cornerRadius":0,"labelFont":"Liberation Sans","labelFontSize":17.5,"labelColor":"#000000","labelLimit":400,"symbolType":"M-2,0L2,0","symbolSize":324,"symbolOffset":7,"labelOffset":11,"rowPadding":4,"symbolStrokeWidth":1.5,
       "encode":{"symbols":{"strokeWidth":{"signal":"datum.value === 'Componente variação lenta' ? 4 : 1"}}}}},
     "strokeDash":{"datum":"Componente variação rápida","type":"nominal","scale":{"domain":["Componente variação rápida","Componente variação lenta","Sinal Original"],"range":[[1,0],[1,0],[6,3,1.5,3]]}}}},
   {"data":{"name":"s"},"mark":{"type":"line","strokeWidth":3},
    "encoding":{
     "x":{"field":"t","type":"quantitative","scale":{"domain":[0,1000],"nice":false},"axis":{"orient":"top","values":[0,200,400,600,800,1000],"labels":false,"grid":false,"title":null}},
     "y":{"field":"b","type":"quantitative","scale":{"domain":[-50,150],"nice":false,"zero":false},"axis":{"orient":"left","labels":false,"ticks":false,"grid":false,"title":"PAC","titleFontSize":16,"titleAngle":270,"titleAlign":"left","titleBaseline":"alphabetic","titleX":-53,"titleY":158}},
     "color":{"datum":"Componente variação lenta","type":"nominal"},
     "strokeDash":{"datum":"Componente variação lenta","type":"nominal"}}},
   {"data":{"name":"f"},"mark":{"type":"line","strokeWidth":1},
    "encoding":{
     "x":{"field":"t","type":"quantitative","scale":{"domain":[0,1000],"nice":false},"axis":null},
     "y":{"field":"d","type":"quantitative","scale":{"domain":[-50,150],"nice":false,"zero":false},"axis":{"orient":"right","values":[-50,0,50,100,150],"labels":false,"grid":false,"title":"3ª","titleFontSize":13,"titleAngle":270,"titleAlign":"left","titleBaseline":"alphabetic","titleX":-458,"titleY":158}},
     "color":{"datum":"Sinal Original","type":"nominal"},
     "strokeDash":{"datum":"Sinal Original","type":"nominal"}}}
  ],
  "resolve":{"axis":{"x":"independent","y":"independent"}}
 },
 {"width":384,"height":294,"title":{"text":"Parte Imaginária"},
  "layer":[
   {"data":{"name":"f"},"mark":{"type":"line","color":"#ff0000","strokeWidth":1},
    "encoding":{
     "x":{"field":"t","type":"quantitative","scale":{"domain":[0,1000],"nice":false},"axis":{"orient":"bottom","values":[0,200,400,600,800,1000],"format":"d","grid":true,"labelBaseline":"alphabetic","labelPadding":36,"title":"Tempo (min)","titleFontSize":22,"titleX":192,"titleY":60,"titleAlign":"center","titleBaseline":"alphabetic"}},
     "y":{"field":"g","type":"quantitative","scale":{"domain":[-0.6,0.2],"nice":false,"zero":false},"axis":{"orient":"left","values":[-0.6,-0.4,-0.2,0,0.2],"grid":true,"labelExpr":"replace(format(datum.value,''),'\u2212','-')","title":"I","titleFontSize":22,"titleAngle":270,"titleAlign":"left","titleBaseline":"alphabetic","titleX":-66,"titleY":176}}}},
   {"data":{"name":"s"},"mark":{"type":"line","color":"#0000ff","strokeWidth":3},
    "encoding":{
     "x":{"field":"t","type":"quantitative","scale":{"domain":[0,1000],"nice":false},"axis":{"orient":"top","values":[0,200,400,600,800,1000],"labels":false,"grid":false,"title":null}},
     "y":{"field":"d","type":"quantitative","scale":{"domain":[-0.6,0.2],"nice":false,"zero":false},"axis":{"orient":"left","labels":false,"ticks":false,"grid":false,"title":"PAC","titleFontSize":16,"titleAngle":270,"titleAlign":"left","titleBaseline":"alphabetic","titleX":-54,"titleY":168}}}},
   {"data":{"name":"f"},"mark":{"type":"line","color":"#00ff00","strokeWidth":1,"strokeDash":[6,3,1.5,3]},
    "encoding":{
     "x":{"field":"t","type":"quantitative","scale":{"domain":[0,1000],"nice":false},"axis":null},
     "y":{"field":"h","type":"quantitative","scale":{"domain":[-0.6,0.2],"nice":false,"zero":false},"axis":{"orient":"right","values":[-0.6,-0.4,-0.2,0,0.2],"labels":false,"grid":false,"title":"3ª","titleFontSize":13,"titleAngle":270,"titleAlign":"left","titleBaseline":"alphabetic","titleX":-467,"titleY":168}}}}
  ],
  "resolve":{"axis":{"x":"independent","y":"independent"}}
 }
],"spacing":27,
 "resolve":{"scale":{"color":"independent","strokeDash":"independent"},"legend":{"color":"independent","strokeDash":"independent"}}}
],
"spacing":45,
"resolve":{"scale":{"color":"independent","strokeDash":"independent"},"legend":{"color":"independent","strokeDash":"independent"}}
}
